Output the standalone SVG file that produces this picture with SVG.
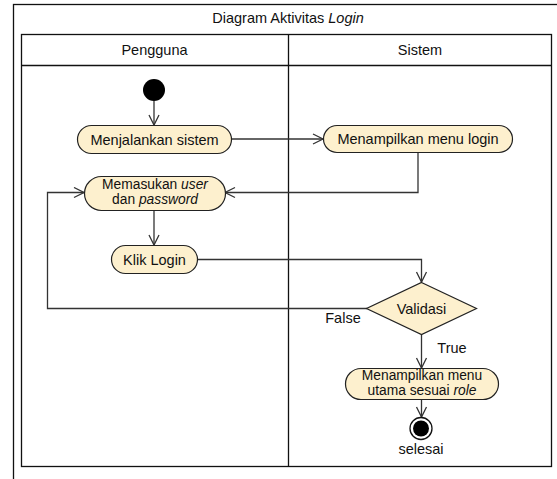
<svg xmlns="http://www.w3.org/2000/svg" width="557" height="479" viewBox="0 0 557 479">
  <style>
    text { font-family: "Liberation Sans", Arial, sans-serif; font-size: 14.5px; fill: #111; }
    .c { text-anchor: middle; }
    .two { font-size: 13.8px; }
    .frame { fill: none; stroke: #111; stroke-width: 1.3; }
    .act { fill: #FDF0CE; stroke: #222; stroke-width: 1.2; }
    .edge { fill: none; stroke: #333; stroke-width: 1.3; }
  </style>
  <defs>
    <marker id="open" markerUnits="userSpaceOnUse" markerWidth="14" markerHeight="14" refX="11" refY="6" orient="auto">
      <path d="M1,1 L11,6 L1,11" fill="none" stroke="#333" stroke-width="1.3"/>
    </marker>
  </defs>

  <rect width="557" height="479" fill="#fff"/>

  <!-- frame and swimlanes -->
  <g id="frame">
    <rect class="frame" x="13.5" y="4.5" width="560" height="490"/>
    <text class="c" x="288" y="23">Diagram Aktivitas <tspan font-style="italic">Login</tspan></text>
    <rect class="frame" x="21.5" y="34.5" width="530" height="432"/>
    <line class="frame" x1="21.5" y1="65.5" x2="551.5" y2="65.5"/>
    <line class="frame" x1="288.5" y1="34.5" x2="288.5" y2="466.5"/>
    <text class="c" x="154.5" y="55">Pengguna</text>
    <text class="c" x="420" y="55">Sistem</text>
  </g>

  <!-- connectors -->
  <g id="connectors">
    <line class="edge" x1="154" y1="101" x2="154" y2="125" marker-end="url(#open)"/>
    <line class="edge" x1="231" y1="139" x2="323" y2="139" marker-end="url(#open)"/>
    <polyline class="edge" points="418,152 418,192.5 225,192.5" marker-end="url(#open)"/>
    <line class="edge" x1="154" y1="210" x2="154" y2="245" marker-end="url(#open)"/>
    <polyline class="edge" points="197,259.5 421.5,259.5 421.5,282" marker-end="url(#open)"/>
    <polyline class="edge" points="367,308.5 47.5,308.5 47.5,192.5 84,192.5" marker-end="url(#open)"/>
    <line class="edge" x1="421.5" y1="334" x2="421.5" y2="368" marker-end="url(#open)"/>
    <line class="edge" x1="421.5" y1="399" x2="421.5" y2="417" marker-end="url(#open)"/>
    <text class="c" x="343" y="323">False</text>
    <text class="c" x="452" y="353">True</text>
  </g>

  <g id="start">
    <circle cx="154" cy="90" r="11" fill="#000"/>
  </g>

  <g id="menjalankan-sistem">
    <rect class="act" x="77.5" y="125.5" width="154" height="28" rx="14"/>
    <text class="c" x="154.5" y="144.5">Menjalankan sistem</text>
  </g>

  <g id="menampilkan-menu-login">
    <rect class="act" x="323.5" y="125.5" width="189" height="27" rx="13.5"/>
    <text class="c" x="418" y="144">Menampilkan menu login</text>
  </g>

  <g id="memasukan-user-password">
    <rect class="act" x="84.5" y="176.5" width="141" height="34" rx="17"/>
    <text class="c two" x="155" y="189">Memasukan <tspan font-style="italic">user</tspan></text>
    <text class="c two" x="155" y="204">dan <tspan font-style="italic">password</tspan></text>
  </g>

  <g id="klik-login">
    <rect class="act" x="111.5" y="245.5" width="86" height="28" rx="14"/>
    <text class="c" x="154.5" y="264.5">Klik Login</text>
  </g>

  <g id="validasi">
    <polygon class="act" points="421.5,282.5 476.5,308.5 421.5,334.5 366.5,308.5"/>
    <text class="c" x="421.5" y="313.5">Validasi</text>
  </g>

  <g id="menampilkan-menu-utama">
    <rect class="act" x="345.5" y="368.5" width="153" height="31" rx="15.5"/>
    <text class="c two" x="422" y="380">Menampilkan menu</text>
    <text class="c two" x="422" y="395">utama sesuai <tspan font-style="italic">role</tspan></text>
  </g>

  <g id="selesai">
    <circle cx="421" cy="428.5" r="11" fill="#fff" stroke="#111" stroke-width="1.3"/>
    <circle cx="421" cy="428.5" r="8" fill="#000"/>
    <text class="c" x="421" y="454">selesai</text>
  </g>
</svg>
